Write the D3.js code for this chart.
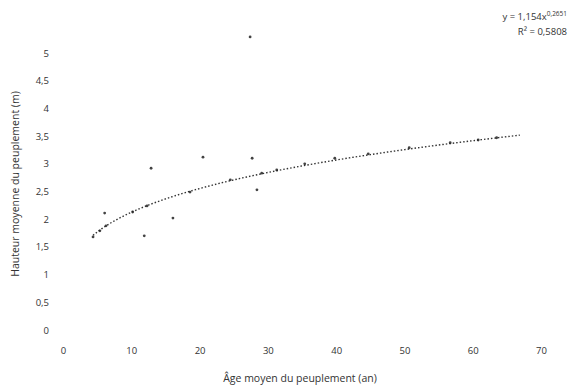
<!DOCTYPE html>
<html>
<head>
<meta charset="utf-8">
<script src="https://cdn.jsdelivr.net/npm/d3@7"></script>
<style>
  html, body { margin: 0; padding: 0; background: #fff; }
  svg { display: block; }
  text { font-family: "Open Sans", "Liberation Sans", sans-serif; fill: #333; }
</style>
</head>
<body>
<svg id="chart" width="572" height="391"></svg>
<script>
// Stand age (years) and mean stand height (m)
const ages    = [4.4, 5.4, 6.3, 10.2, 12.3, 18.6, 6.1, 16.1, 11.9, 27.4, 27.7, 28.4,
                 12.9, 20.5,
                 24.5, 29.1, 31.3, 35.4, 39.8, 44.7, 50.7, 56.7, 60.8, 63.5];
const heights = [1.68, 1.79, 1.88, 2.13, 2.24, 2.49, 2.11, 2.02, 1.70, 5.29, 3.10, 2.53,
                 2.92, 3.12,
                 2.71, 2.83, 2.89, 3.00, 3.10, 3.18, 3.29, 3.38, 3.43, 3.47];

// Power trendline y = a * x^b
const coefA = 1.154;
const coefB = 0.2651;
const rSquared = 0.5808;
const trendRange = [4.4, 66.9];

const xTicks = [0, 10, 20, 30, 40, 50, 60, 70];
const yTicks = [0, 0.5, 1, 1.5, 2, 2.5, 3, 3.5, 4, 4.5, 5];

const svg = d3.select("#chart");
const x = d3.scaleLinear().domain([0, 70]).range([63, 541]);
const y = d3.scaleLinear().domain([0, 5]).range([330, 53]);
const fmt = v => String(v).replace(".", ",");

// Axes: labels only, no lines
const xAxis = svg.append("g")
  .attr("transform", "translate(0,344)")
  .call(d3.axisBottom(x).tickValues(xTicks).tickSize(0).tickFormat(fmt));
const yAxis = svg.append("g")
  .attr("transform", "translate(52,0)")
  .call(d3.axisLeft(y).tickValues(yTicks).tickSize(0).tickFormat(fmt));
[xAxis, yAxis].forEach(g => {
  g.select(".domain").remove();
  g.selectAll("text").attr("font-size", 9.5).style("fill", "#333")
    .style("font-family", "'Open Sans', 'Liberation Sans', sans-serif");
});

// Trendline (dotted)
const trendPts = d3.range(0, 101).map(i => {
  const xv = trendRange[0] + (trendRange[1] - trendRange[0]) * i / 100;
  return [xv, coefA * Math.pow(xv, coefB)];
});
svg.append("path")
  .datum(trendPts)
  .attr("fill", "none")
  .attr("stroke", "#333")
  .attr("stroke-width", 1.4)
  .attr("stroke-dasharray", "1.5,2")
  .attr("d", d3.line().x(d => x(d[0])).y(d => y(d[1])));

// Observations
svg.append("g").selectAll("circle")
  .data(ages.map((a, i) => [a, heights[i]]))
  .join("circle")
  .attr("cx", d => x(d[0]))
  .attr("cy", d => y(d[1]))
  .attr("r", 1.4)
  .attr("fill", "#222")
  .attr("opacity", 0.85);

// Equation and R²
const eq = svg.append("text").attr("x", 567).attr("y", 20)
  .attr("text-anchor", "end").attr("font-size", 9.5);
eq.append("tspan").text("y = " + fmt(coefA) + "x");
eq.append("tspan").attr("dy", -4).attr("font-size", 6.5).text(fmt(coefB));
svg.append("text").attr("x", 567).attr("y", 35)
  .attr("text-anchor", "end").attr("font-size", 9.5)
  .text("R² = " + fmt(rSquared));

// Axis titles
svg.append("text")
  .attr("x", 300).attr("y", 382)
  .attr("text-anchor", "middle").attr("font-size", 10.5)
  .text("Âge moyen du peuplement (an)");
svg.append("text")
  .attr("transform", "translate(19,184) rotate(-90)")
  .attr("text-anchor", "middle").attr("font-size", 10.5)
  .text("Hauteur moyenne du peuplement (m)");
</script>
</body>
</html>
